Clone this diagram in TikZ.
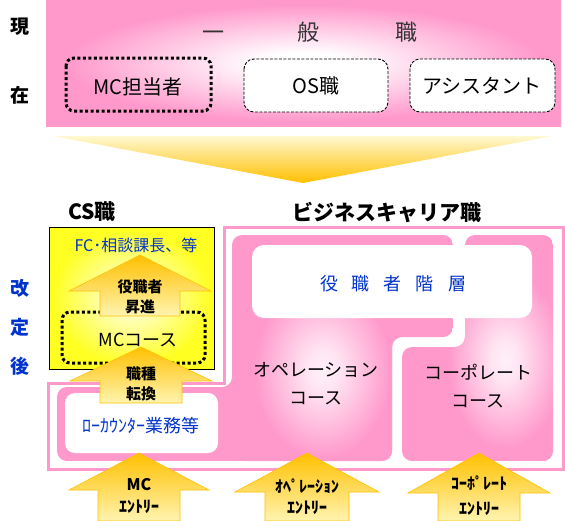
\documentclass[tikz,border=0pt]{standalone}
\usepackage{fontspec}
\setmainfont{Noto Sans CJK JP}

\definecolor{pinkc}{HTML}{FF99CC}
\definecolor{bluec}{HTML}{0033CC}
\definecolor{goldc}{HTML}{FFC000}
\definecolor{paleyel}{HTML}{FFF4B0}
\definecolor{funtop}{HTML}{FFF8D0}
\definecolor{yelc}{HTML}{FFFF22}
\definecolor{lightyel}{HTML}{FFFFCC}

\pgfdeclareradialshading{pinkglow}{\pgfpoint{0bp}{0bp}}{color(0bp)=(white); color(4bp)=(white); color(23bp)=(pinkc); color(50bp)=(pinkc)}
\pgfdeclareradialshading{softglow}{\pgfpoint{0bp}{0bp}}{color(0bp)=(white!85!pinkc); color(5bp)=(white!75!pinkc); color(22bp)=(pinkc); color(50bp)=(pinkc)}
\pgfdeclareradialshading{yelglow}{\pgfpoint{0bp}{0bp}}{color(0bp)=(lightyel); color(5bp)=(lightyel); color(24bp)=(yelc); color(50bp)=(yelc)}

\tikzset{
    sidetxt/.style={font=\bfseries\fontsize{19}{19}\selectfont},
    headtxt/.style={font=\bfseries\fontsize{21}{21}\selectfont},
    boxtxt/.style={font=\fontsize{20}{20}\selectfont},
    arrtxt/.style={font=\bfseries\fontsize{15}{20}\selectfont, align=center},
    coursetxt/.style={font=\fontsize{18}{28}\selectfont, align=center},
    dotbox/.style={draw=black, line width=3pt, dash pattern=on 3pt off 2.5pt, rounded corners=8pt},
    dashbox/.style={draw=black, fill=white, line width=0.9pt, dash pattern=on 3pt off 1.5pt, rounded corners=10pt}
}

% block arrow: x, tip y, head y, bottom y, half head, half shaft
\newcommand{\upblock}[6]{%
    \shade[top color=goldc, bottom color=paleyel, draw=goldc, line width=0.6pt]
        (#1,#2) -- (#1+#5,#3) -- (#1+#6,#3) -- (#1+#6,#4) -- (#1-#6,#4)
        -- (#1-#6,#3) -- (#1-#5,#3) -- cycle;}

\begin{document}
\begin{tikzpicture}[x=1pt, y=-1pt]
        \useasboundingbox (0,0) rectangle (565,520);

        % Current
        \shade[shading=pinkglow] (46,0) rectangle (561,126);
        \node[sidetxt] (now1) at (20,27) {現};
        \node[sidetxt] (now2) at (20,95) {在};
        \node[font=\fontsize{22}{22}\selectfont, text=black!80] (general) at (310,32)
            {一\hspace{73pt}般\hspace{76pt}職};

        \draw[dotbox] (66,58) rectangle (211,111);
        \node[boxtxt] (mcstaff) at (138,87) {MC担当者};
        \draw[dashbox] (244,59) rectangle (388,112);
        \node[boxtxt] (osjob) at (316,86) {OS職};
        \draw[dashbox] (410,59) rectangle (555,112);
        \node[boxtxt] (assist) at (482,86) {アシスタント};

        % Funnel
        \shade[top color=funtop, bottom color=goldc] (53,136) -- (552,136) -- (303,183) -- cycle;

        % Revised
        \node[sidetxt, text=bluec] (rev1) at (20,288) {改};
        \node[sidetxt, text=bluec] (rev2) at (20,327) {定};
        \node[sidetxt, text=bluec] (rev3) at (20,366) {後};

        \node[headtxt] (csjob) at (92,212) {CS職};
        \node[headtxt] (bcjob) at (387,212) {ビジネスキャリア職};

        % CS box
        \shade[shading=yelglow, draw=black, line width=0.8pt] (49,227) rectangle (214,369);
        \node[font=\fontsize{16}{16}\selectfont, text=bluec] (fcchief) at (136,245) {FC･相談課長、等};

        % Business career frame
        \draw[pinkc, line width=3pt] (224,227) -- (563,227) -- (563,469) -- (48,469)
            -- (48,383) -- (224,383) -- cycle;

        % Operation course
        \begin{scope}
            \clip[rounded corners=10pt] (57,387) -- (232,387) -- (232,235) -- (453,235)
                -- (453,337) -- (392,337) -- (392,461) -- (57,461) -- cycle;
            \fill[pinkc] (57,235) rectangle (453,461);
            \shade[shading=softglow] (245,270) rectangle (400,470);
        \end{scope}

        % Corporate course
        \begin{scope}
            \clip[rounded corners=10pt] (465,235) -- (553,235) -- (553,461) -- (402,461)
                -- (402,347) -- (465,347) -- cycle;
            \fill[pinkc] (402,235) rectangle (553,461);
            \shade[shading=softglow] (440,260) rectangle (570,460);
        \end{scope}

        \fill[white, rounded corners=12pt] (252,245) rectangle (532,318);
        \node[font=\fontsize{18}{18}\selectfont, text=bluec] (officers) at (393,284)
            {役\hspace{14pt}職\hspace{14pt}者\hspace{14pt}階\hspace{14pt}層};
        \node[coursetxt] (opcourse) at (316,384) {オペレーション\\コース};
        \node[coursetxt] (cpcourse) at (478,386) {コーポレート\\コース};

        \fill[white, rounded corners=10pt] (65,393) rectangle (218,453);
        \node[font=\fontsize{18}{18}\selectfont, text=bluec] (lowcount) at (141,426) {ﾛｰｶｳﾝﾀｰ業務等};

        % MC course
        \draw[dotbox] (62,312) rectangle (205,363);
        \node[font=\fontsize{18}{18}\selectfont] (mccourse) at (138,340) {MCコース};

        % Arrows
        \upblock{140}{255}{291}{316}{71}{40}
        \node[arrtxt] (promote) at (140,297) {役職者\\昇進};
        \upblock{141}{347}{381}{403}{71}{41}
        \node[arrtxt] (change) at (141,384) {職種\\転換};

        \upblock{139}{453}{490}{521}{70}{41}
        \node[arrtxt, font=\bfseries\fontsize{16}{22}\selectfont] (mcentry) at (139,496) {MC\\ｴﾝﾄﾘｰ};
        \upblock{307}{453}{492}{521}{72}{42}
        \node[arrtxt, font=\bfseries\fontsize{16}{21}\selectfont] (opentry) at (307,497) {ｵﾍﾟﾚｰｼｮﾝ\\ｴﾝﾄﾘｰ};
        \upblock{479}{453}{493}{521}{71}{41}
        \node[arrtxt, font=\bfseries\fontsize{16}{25}\selectfont] (cpentry) at (479,496) {ｺｰﾎﾟﾚｰﾄ\\ｴﾝﾄﾘｰ};

    \end{tikzpicture}
\end{document}
